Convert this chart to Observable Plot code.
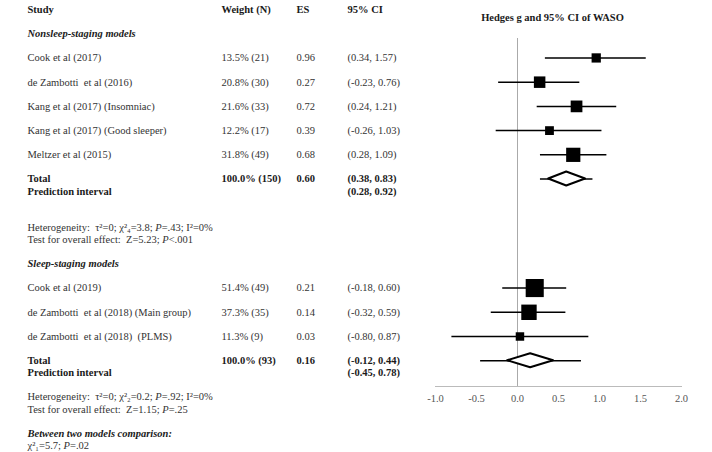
<!DOCTYPE html>
<html><head><meta charset="utf-8">
<script src="https://cdn.jsdelivr.net/npm/d3@7"></script>
<script src="https://cdn.jsdelivr.net/npm/@observablehq/plot@0.6"></script>
<style>body{margin:0;background:#fff} #chart{width:712px;height:452px}</style>
</head><body><div id="chart"></div>
<script>
// ---- data ----
const headers = ["Study", "Weight (N)", "ES", "95% CI"];
const title = "Hedges g and 95% CI of WASO";
const groupNames = ["Nonsleep-staging models", "Sleep-staging models"];
const studies = [
  ["Cook et al (2017)", "de Zambotti  et al (2016)", "Kang et al (2017) (Insomniac)", "Kang et al (2017) (Good sleeper)", "Meltzer et al (2015)"],
  ["Cook et al (2019)", "de Zambotti  et al (2018) (Main group)", "de Zambotti  et al (2018)  (PLMS)"]
];
const weights = [[13.5, 20.8, 21.6, 12.2, 31.8], [51.4, 37.3, 11.3]];
const sampleN = [[21, 30, 33, 17, 49], [49, 35, 9]];
const es = [[0.96, 0.27, 0.72, 0.39, 0.68], [0.21, 0.14, 0.03]];
const ciLo = [[0.34, -0.23, 0.24, -0.26, 0.28], [-0.18, -0.32, -0.80]];
const ciHi = [[1.57, 0.76, 1.21, 1.03, 1.09], [0.60, 0.59, 0.87]];
const totalWeight = [100.0, 100.0];
const totalN = [150, 93];
const totalES = [0.60, 0.16];
const totalLo = [0.38, -0.12];
const totalHi = [0.83, 0.44];
const predLo = [0.28, -0.45];
const predHi = [0.92, 0.78];
const heterogeneity = ["Heterogeneity:  τ²=0; χ²₄=3.8; P=.43; I²=0%", "Heterogeneity:  τ²=0; χ²₂=0.2; P=.92; I²=0%"];
const overallTest = ["Test for overall effect:  Z=5.23; P<.001", "Test for overall effect:  Z=1.15; P=.25"];
const comparisonTitle = "Between two models comparison:";
const comparisonText = "χ²₁=5.7; P=.02";
const xTicks = [-1.0, -0.5, 0.0, 0.5, 1.0, 1.5, 2.0];

// ---- layout (row lines built from structure) ----
const cells = [];
const studyRows = [];
const totalRows = [];
headers.forEach((h, i) => cells.push({line: 0, col: i, label: h, style: "bold"}));
let line = 2;
const f2 = v => v.toFixed(2);
groupNames.forEach((g, gi) => {
  cells.push({line, col: 0, label: g, style: "bolditalic"});
  line += 2;
  studies[gi].forEach((s, i) => {
    studyRows.push({line, w: weights[gi][i], es: es[gi][i], lo: ciLo[gi][i], hi: ciHi[gi][i]});
    cells.push({line, col: 0, label: s, style: "normal"});
    cells.push({line, col: 1, label: `${weights[gi][i].toFixed(1)}% (${sampleN[gi][i]})`, style: "normal"});
    cells.push({line, col: 2, label: f2(es[gi][i]), style: "normal"});
    cells.push({line, col: 3, label: `(${f2(ciLo[gi][i])}, ${f2(ciHi[gi][i])})`, style: "normal"});
    line += 2;
  });
  totalRows.push({line, g: gi, es: totalES[gi], lo: totalLo[gi], hi: totalHi[gi], plo: predLo[gi], phi: predHi[gi]});
  cells.push({line, col: 0, label: "Total", style: "bold"});
  cells.push({line, col: 1, label: `${totalWeight[gi].toFixed(1)}% (${totalN[gi]})`, style: "bold"});
  cells.push({line, col: 2, label: f2(totalES[gi]), style: "bold"});
  cells.push({line, col: 3, label: `(${f2(totalLo[gi])}, ${f2(totalHi[gi])})`, style: "bold"});
  line += 1;
  cells.push({line, col: 0, label: "Prediction interval", style: "bold"});
  cells.push({line, col: 3, label: `(${f2(predLo[gi])}, ${f2(predHi[gi])})`, style: "bold"});
  line += gi === 0 ? 3 : 2;
  cells.push({line, col: 0, label: heterogeneity[gi], style: "normal", rich: true});
  line += 1;
  cells.push({line, col: 0, label: overallTest[gi], style: "normal", rich: true});
  line += 2;
});
cells.push({line, col: 0, label: comparisonTitle, style: "bolditalic"});
line += 1;
cells.push({line, col: 0, label: comparisonText, style: "normal", rich: true});
const lastLine = line;

const W = 712, H = 452;
const yTop = 9, yBottom = 445;
const pxPerLine = (yBottom - yTop) / lastLine;
const half = 7 / pxPerLine;
const colDx = [-408, -214, -139, -88];

const diamonds = totalRows.flatMap(t => [
  {g: t.g, x: t.lo, y1: t.line, y2: t.line},
  {g: t.g, x: t.es, y1: t.line - half, y2: t.line + half},
  {g: t.g, x: t.hi, y1: t.line, y2: t.line}
]);

const font = "Liberation Serif, Times New Roman, serif";
const styles = {
  normal: {fontWeight: "normal", fontStyle: "normal", fill: "#333"},
  bold: {fontWeight: "bold", fontStyle: "normal", fill: "#1a1a1a"},
  bolditalic: {fontWeight: "bold", fontStyle: "italic", fill: "#1a1a1a"}
};
const textMarks = [];
[0, 1, 2, 3].forEach(c => {
  Object.keys(styles).forEach(st => {
    const d = cells.filter(e => e.col === c && e.style === st);
    if (!d.length) return;
    textMarks.push(Plot.text(d, {
      y: "line", text: "label", frameAnchor: "left", dx: colDx[c], textAnchor: "start",
      fontSize: 10.5, ...styles[st]
    }));
  });
});

const svg = Plot.plot({
  width: W, height: H,
  marginLeft: 435, marginRight: 31, marginTop: 38, marginBottom: H - 386,
  style: {fontFamily: font, fontSize: "10.5px", background: "#fff"},
  x: {domain: [-1, 2]},
  y: {type: "linear", domain: [0, lastLine], range: [yTop, yBottom], axis: null},
  r: {type: "sqrt", domain: [0, d3.max(weights.flat())], range: [0, 10.2]},
  marks: [
    Plot.ruleX([0], {stroke: "#aaa", strokeWidth: 1}),
    Plot.frame({anchor: "bottom", stroke: "#bbb"}),
    Plot.axisX({ticks: xTicks, tickFormat: d => d.toFixed(1), tickSize: 0, tickPadding: 8, color: "#555", fontSize: 10.5, label: null}),
    Plot.ruleY(studyRows, {y: "line", x1: "lo", x2: "hi", stroke: "#000", strokeWidth: 1.5}),
    Plot.dot(studyRows, {x: "es", y: "line", r: "w", symbol: "square", fill: "#000", stroke: null}),
    Plot.ruleY(totalRows, {y: "line", x1: "plo", x2: "phi", stroke: "#000", strokeWidth: 1.5}),
    Plot.areaY(diamonds, {x: "x", y1: "y1", y2: "y2", z: "g", fill: "#fff", stroke: "#000", strokeWidth: 2, curve: "linear"}),
    ...textMarks,
    Plot.text([title], {y: () => 0, frameAnchor: "top", dx: -6, dy: 4, fontWeight: "bold", fill: "#1a1a1a", fontSize: 10.5})
  ]
});

// italicize the P in statistic lines
const richLabels = new Set(cells.filter(c => c.rich).map(c => c.label));
d3.select(svg).selectAll("text").each(function() {
  const t = this.textContent;
  if (!richLabels.has(t)) return;
  const parts = t.split(/(P)(?=[=<])/);
  const sel = d3.select(this);
  sel.text(null).attr("xml:space", "preserve");
  parts.forEach(p => {
    if (!p) return;
    const ts = sel.append("tspan").text(p);
    if (p === "P") ts.attr("font-style", "italic");
  });
});
document.getElementById("chart").appendChild(svg);
</script>
</body></html>
